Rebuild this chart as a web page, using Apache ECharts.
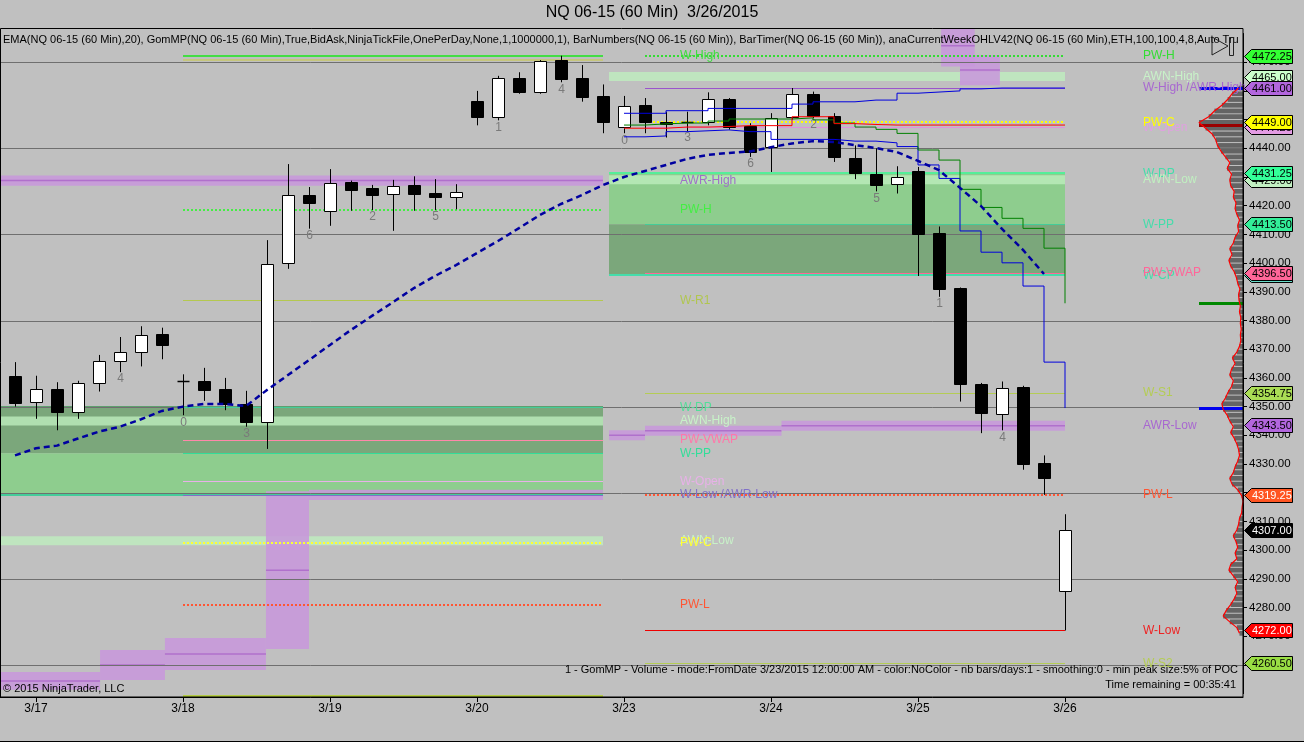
<!DOCTYPE html>
<html>
<head>
<meta charset="utf-8">
<script src="https://cdn.jsdelivr.net/npm/echarts@6.0.0/dist/echarts.min.js"></script>
<style>
html,body{margin:0;padding:0;background:#c0c0c0;overflow:hidden}
#chart{width:1304px;height:742px}
</style>
</head>
<body>
<div id="chart"></div>
<script>
// ================= DATA =================
const dateLabels = ['3/17','3/18','3/19','3/20','3/23','3/24','3/25','3/26'];
const dateBars   = [1, 8, 15, 22, 29, 36, 43, 50];

const barOpen  = [4360.75,4351.5,4356.0,4348.0,4358.25,4365.75,4369.0,4375.25,4358.75,4359.0,4356.0,4351.0,4344.75,4400.0,4423.75,4418.25,4428.25,4426.0,4424.0,4427.25,4424.5,4423.0,4456.5,4450.75,4464.5,4459.75,4470.75,4464.5,4458.25,4447.25,4455.25,4449.25,4448.75,4449.0,4457.25,4447.75,4440.5,4450.75,4459.0,4451.25,4436.5,4431.0,4427.5,4432.25,4410.5,4391.25,4358.0,4347.25,4357.0,4330.5,4285.75];
const barHigh  = [4365.5,4360.75,4358.5,4359.0,4368.0,4374.25,4378.0,4377.5,4361.25,4363.5,4360.0,4355.5,4408.0,4434.5,4426.5,4432.75,4428.75,4427.25,4429.0,4430.25,4429.25,4427.5,4460.0,4465.25,4466.5,4470.75,4472.25,4469.0,4462.25,4458.25,4457.5,4452.75,4452.75,4459.5,4457.5,4448.75,4452.25,4461.0,4459.75,4452.25,4441.0,4440.0,4433.75,4433.5,4412.75,4391.5,4358.25,4358.75,4357.25,4333.0,4312.5];
const barLow   = [4350.0,4345.75,4341.75,4345.75,4355.25,4362.0,4364.0,4366.5,4347.0,4352.0,4348.75,4343.0,4335.25,4398.0,4412.0,4413.0,4418.25,4418.5,4411.25,4418.25,4418.5,4418.75,4448.0,4449.75,4459.0,4459.0,4463.0,4456.25,4445.25,4445.25,4445.25,4443.75,4446.0,4448.0,4446.5,4437.0,4431.75,4450.0,4450.5,4435.25,4429.25,4425.0,4424.25,4395.5,4388.25,4351.75,4340.75,4341.75,4328.0,4319.25,4272.0];
const barClose = [4351.25,4356.0,4348.0,4358.25,4365.75,4369.0,4375.0,4371.5,4358.75,4355.75,4351.0,4344.75,4399.75,4423.75,4421.0,4427.75,4425.5,4423.75,4426.75,4424.25,4423.0,4424.75,4450.75,4464.5,4459.75,4470.25,4464.25,4458.0,4449.0,4454.75,4449.25,4448.5,4449.0,4457.25,4447.5,4438.75,4450.5,4458.75,4451.25,4437.0,4431.25,4427.25,4430.0,4410.0,4391.0,4357.75,4347.75,4356.5,4330.0,4325.0,4307.0];

const ema20 = [4333.0,4335.5,4336.4,4338.9,4341.3,4343.0,4345.6,4348.5,4350.0,4350.9,4350.9,4350.2,4355.8,4361.0,4366.2,4371.5,4376.7,4381.6,4386.4,4391.3,4395.5,4399.3,4403.5,4407.7,4412.2,4416.8,4420.6,4423.7,4427.2,4430.0,4432.1,4434.2,4436.3,4437.7,4438.4,4438.9,4440.4,4441.7,4442.5,4442.2,4441.1,4440.1,4438.7,4435.6,4432.4,4426.2,4419.9,4411.9,4404.6,4396.2];

// step plots of the current week, starting at bar 29
const stepStartBar = 29;
const bandUpper = [4452.2,4452.2,4453.1,4453.1,4453.9,4453.9,4453.9,4453.9,4455.4,4456.2,4456.2,4456.8,4456.8,4459.2,4459.6,4460.0,4460.7,4461.0,4461.0,4461.0,4461.0,4461.0];
const bandLower = [4444.0,4444.3,4445.8,4446.1,4446.4,4445.8,4445.8,4443.1,4443.1,4443.1,4442.5,4442.5,4441.9,4440.6,4434.2,4429.5,4411.2,4403.8,4400.1,4392.0,4365.5,4349.5];
const stepGreen = [4448.1,4448.5,4448.8,4448.8,4449.5,4450.2,4450.2,4450.2,4450.6,4449.9,4448.8,4447.4,4446.6,4445.2,4439.4,4435.9,4425.7,4419.4,4415.6,4412.1,4405.2,4386.0];
const stepRed   = [4447.0,4447.0,4447.4,4447.4,4447.6,4447.9,4447.9,4447.9,4451.0,4451.0,4448.6,4448.3,4448.1,4448.1,4448.1,4448.1,4448.1,4448.1,4448.1,4448.1,4448.1,4448.1];

const gridValues = [4260,4290,4320,4350,4380,4410,4440,4470];

const barNumberBars   = [5,8,11,14,17,20,23,26,29,32,35,38,41,44,47];
const barNumberLabels = ['4','0','3','6','2','5','1','4','0','3','6','2','5','1','4'];

// previous week levels (drawn 3/18 .. 3/20)
const prevLevelNames  = ['W-R2','W-High','AWR-High','PW-H','W-R1','W-DP','AWN-High','PW-VWAP','W-PP','W-Open','W-Low /AWR-Low','AWN-Low','PW-C','PW-L','W-S2'];
const prevLevelValues = [4470.75,4472.25,4428.75,4418.5,4387.0,4349.75,4345.0,4338.5,4333.75,4324.0,4319.25,4303.25,4302.5,4281.0,4249.0];
// current week levels
const currLevelNames  = ['PW-H','AWN-High','W-High /AWR-High','W-Open','PW-C','W-DP','AWN-Low','W-PP','W-CP','PW-VWAP','W-S1','AWR-Low','PW-L','W-Low','W-S2'];
const currLevelValues = [4472.25,4465.0,4461.0,4447.25,4449.0,4431.25,4429.0,4413.5,4395.75,4396.5,4354.75,4343.5,4319.25,4272.0,4260.5];

// pivot zones: top, middle, bottom
const prevZoneValues = [4349.75,4333.75,4319.25];
const currZoneValues = [4431.25,4413.5,4395.75];

// AWR staircases [fromBar, toBar, upper, lower]
const prevAwrLowSteps  = [[-0.714,4.05,4257.5,4251.3],[4.05,7.14,4265.2,4254.7],[7.14,11.95,4269.4,4258.2],[11.95,14.0,4320.5,4265.5],[14.0,28,4321.0,4317.5]];
const currAwrLowSteps  = [[28.29,30,4341.8,4338.3],[30,36.5,4343.3,4339.8],[36.5,50,4345.1,4341.6]];
const currAwrHighSteps = [[44.1,45.7,4483,4468.5],[45.0,46.9,4472.5,4462.0]];

// volume profile (GomMP), price ladder 4271..4461 step 2
const profileStart = 4271, profileStep = 2;
const profileVolumes = [8,14,30,45,38,28,20,14,18,12,22,32,28,14,18,12,16,22,14,10,8,3,2,0,3,12,25,30,22,18,12,8,10,14,20,28,22,30,36,45,48,40,34,26,22,30,26,18,24,14,8,5,6,4,6,5,8,6,9,10,7,12,15,20,28,32,25,30,22,18,10,12,8,14,18,16,22,20,28,30,26,36,30,40,50,58,62,70,85,100,78,65,48,35,25,10];

// price markers on the right axis
const tagValues = [4447.25,4429.00,4395.75,4472.25,4465.00,4461.00,4449.00,4431.25,4413.50,4396.50,4354.75,4343.50,4319.25,4307.00,4272.00,4260.50];

// ================= STYLE / LAYOUT =================
const tagFill = ['#e39be3','#c2f0c2','#66dcc8','#33ff33','#ccffcc','#b266dd','#ffff00','#33ff99','#33ee99','#ff6699','#aadd55','#b266dd','#ff5522','#000000','#ff0000','#99dd44'];
const tagInk  = ['#000','#000','#000','#000','#000','#000','#000','#000','#000','#000','#000','#000','#fff','#fff','#fff','#000'];

const FONT = '"Liberation Sans", Arial, sans-serif';
const X_MIN = -15/21, X_MAX = (1243-15)/21;
const PREV_X0 = 8, PREV_X1 = 28, PREV_LX = (680-15)/21;
const CURR_X0 = 30, CURR_X1 = 50, CURR_LX = (1143-15)/21;
const ZONE_PREV = [X_MIN, 28], ZONE_CURR = [(609-15)/21, 50];

const prevStyle = {
  'W-R2': {line:'#c6c67e', w:2},
  'W-High': {line:'#44dd44', w:2, label:'#3fdc3f'},
  'AWR-High': {label:'#a070c8'},
  'PW-H': {line:'#44ee44', w:2, dash:[2,2], label:'#44ee44'},
  'W-R1': {line:'#b4c850', w:1, label:'#b0c650'},
  'W-DP': {line:'#44cc99', w:1, label:'#55dd99'},
  'AWN-High': {label:'#c8f2c8'},
  'PW-VWAP': {line:'#ff88aa', w:1, label:'#ff77aa'},
  'W-PP': {line:'#33dd99', w:1, label:'#33dd99'},
  'W-Open': {line:'#e8b0e8', w:1, label:'#e8b0e8'},
  'W-Low /AWR-Low': {line:'#8070c8', w:1, label:'#8070c8'},
  'AWN-Low': {label:'#c8f2c8'},
  'PW-C': {line:'#ffff33', w:2, dash:[2,2], label:'#ffff33'},
  'PW-L': {line:'#ff5533', w:2, dash:[2,2], label:'#ff5533'},
  'W-S2': {line:'#b4cc44', w:2}
};
const currStyle = {
  'PW-H': {line:'#33dd33', w:2, dash:[2,2], label:'#33dd33'},
  'AWN-High': {label:'#c8f2c8'},
  'W-High /AWR-High': {line:'#9955cc', w:1, label:'#a868d0'},
  'W-Open': {line:'#e090e0', w:1, label:'#e0a0e0'},
  'PW-C': {line:'#ffff00', w:2, dash:[2,2], label:'#ffff00'},
  'W-DP': {line:'#55ee99', w:2, label:'#44ddaa'},
  'AWN-Low': {label:'#c0f0c0'},
  'W-PP': {line:'#44cc99', w:1, label:'#44ddaa'},
  'W-CP': {line:'#44ddaa', w:1, label:'#44ddaa'},
  'PW-VWAP': {line:'#ff6699', w:1, label:'#ff6699'},
  'W-S1': {line:'#b4cc55', w:1, label:'#b4cc55'},
  'AWR-Low': {label:'#a868d0'},
  'PW-L': {line:'#ff5533', w:2, dash:[2,2], label:'#ff5533'},
  'W-Low': {line:'#ee0000', w:1, label:'#ee2222'},
  'W-S2': {line:'#b4cc55', w:1, label:'#b4cc55'}
};

// ================= BUILD =================
function hLine(a, b, color, w, dash) {
  const y = Math.round(a[1]) + ((w % 2) ? 0.5 : 0);
  return {type:'line', shape:{x1:a[0], y1:y, x2:b[0], y2:y}, style:{stroke:color, lineWidth:w, lineDash:dash || null}};
}

function levelLines(names, values, x0, x1, styles) {
  return {type:'custom', clip:false, silent:true,
    data: values.map(v => [x0, v]),
    renderItem(params, api) {
      const k = params.dataIndex, st = styles[names[k]] || {};
      if (!st.line) return {type:'group', children:[]};
      return hLine(api.coord([x0, values[k]]), api.coord([x1, values[k]]), st.line, st.w || 1, st.dash);
    }};
}
function levelLabels(names, values, lx, styles) {
  return {type:'custom', clip:false, silent:true,
    data: values.map(v => [lx, v]),
    renderItem(params, api) {
      const k = params.dataIndex, st = styles[names[k]] || {};
      if (!st.label) return {type:'group', children:[]};
      const t = api.coord([lx, values[k]]);
      return {type:'text', style:{text:names[k], x:t[0], y:t[1], fill:st.label, font:'12px ' + FONT, align:'left', verticalAlign:'middle'}};
    }};
}

// zones [x0, x1, top, bottom] with fills
const zoneRects = [
  [ZONE_PREV[0], ZONE_PREV[1], prevZoneValues[0], prevZoneValues[1]],
  [ZONE_PREV[0], ZONE_PREV[1], prevZoneValues[1], prevZoneValues[2]],
  [ZONE_CURR[0], ZONE_CURR[1], currZoneValues[0], currZoneValues[1]],
  [ZONE_CURR[0], ZONE_CURR[1], currZoneValues[1], currZoneValues[2]]
];
const zoneFill = ['#7ba77b','#8ecd8e','#8ecd8e','#7ba77b'];
const zoneEdge = [
  [ZONE_PREV[0], ZONE_PREV[1], prevZoneValues[0], '#5f9f6f'],
  [ZONE_PREV[0], ZONE_PREV[1], prevZoneValues[2], '#44cc99'],
  [ZONE_CURR[0], ZONE_CURR[1], currZoneValues[0], '#55ee99'],
  [ZONE_CURR[0], ZONE_CURR[1], currZoneValues[2], '#44ddaa']
];

// AWN light bands
const awnBands = [
  [ZONE_PREV[0], ZONE_PREV[1], prevLevelValues[prevLevelNames.indexOf('AWN-High')]],
  [ZONE_PREV[0], ZONE_PREV[1], prevLevelValues[prevLevelNames.indexOf('AWN-Low')]],
  [ZONE_CURR[0], ZONE_CURR[1], currLevelValues[currLevelNames.indexOf('AWN-High')]],
  [ZONE_CURR[0], ZONE_CURR[1], currLevelValues[currLevelNames.indexOf('AWN-Low')]]
];

// AWR purple rects
const awrRects = [].concat(
  [[ZONE_PREV[0], ZONE_PREV[1], prevLevelValues[prevLevelNames.indexOf('AWR-High')] + 1.8, prevLevelValues[prevLevelNames.indexOf('AWR-High')] - 1.8]],
  prevAwrLowSteps, currAwrLowSteps, currAwrHighSteps
);

const candleData = barOpen.map((o, i) => [i, o, barClose[i], barLow[i], barHigh[i]]);
const profileData = profileVolumes.map((v, k) => [v, profileStart + k * profileStep]);
const stepXY = arr => arr.map((v, k) => [stepStartBar + k, v]);

const markerEnds = [
  [bandUpper[bandUpper.length - 1], '#0000ee'],
  [bandLower[bandLower.length - 1], '#0000ee'],
  [stepGreen[stepGreen.length - 1], '#008800'],
  [stepRed[stepRed.length - 1], '#990000']
];

const series = [
  // zones
  {type:'custom', clip:false, silent:true, data: zoneRects,
    renderItem(params, api) {
      const r = zoneRects[params.dataIndex];
      const a = api.coord([r[0], r[2]]), b = api.coord([r[1], r[3]]);
      return {type:'rect', shape:{x:a[0], y:a[1], width:b[0]-a[0], height:b[1]-a[1]}, style:{fill:zoneFill[params.dataIndex]}};
    }},
  // AWN bands
  {type:'custom', clip:false, silent:true, data: awnBands,
    renderItem(params, api) {
      const r = awnBands[params.dataIndex];
      const a = api.coord([r[0], r[2]]), b = api.coord([r[1], r[2]]);
      return {type:'rect', shape:{x:a[0], y:a[1]-4.5, width:b[0]-a[0], height:9}, style:{fill:'rgba(190,238,190,0.8)'}};
    }},
  // AWR purple bands
  {type:'custom', clip:false, silent:true, data: awrRects,
    renderItem(params, api) {
      const r = awrRects[params.dataIndex];
      const a = api.coord([r[0], r[2]]), b = api.coord([r[1], r[3]]);
      const y0 = Math.max(a[1], 28.5);
      return {type:'group', children:[
        {type:'rect', shape:{x:a[0], y:y0, width:b[0]-a[0], height:b[1]-y0}, style:{fill:'rgba(200,150,220,0.85)'}},
        {type:'line', shape:{x1:a[0], y1:(a[1]+b[1])/2, x2:b[0], y2:(a[1]+b[1])/2}, style:{stroke:'#b070cc', lineWidth:1.5}}
      ]};
    }},
  // zone edges
  {type:'custom', clip:false, silent:true, data: zoneEdge.map(e => [e[0], e[2]]),
    renderItem(params, api) {
      const e = zoneEdge[params.dataIndex];
      return hLine(api.coord([e[0], e[2]]), api.coord([e[1], e[2]]), e[3], 2);
    }},
  // grid lines
  {type:'custom', clip:false, silent:true, data: gridValues.map(v => [X_MIN, v]),
    renderItem(params, api) {
      const v = gridValues[params.dataIndex];
      return hLine(api.coord([X_MIN, v]), api.coord([X_MAX, v]), '#6f6f6f', 1);
    }},
  levelLines(prevLevelNames, prevLevelValues, PREV_X0, PREV_X1, prevStyle),
  levelLines(currLevelNames, currLevelValues, CURR_X0, CURR_X1, currStyle),
  // candles
  {type:'custom', clip:false, silent:true, data: candleData,
    renderItem(params, api) {
      const i = api.value(0), o = api.value(1), c = api.value(2), l = api.value(3), h = api.value(4);
      const pO = api.coord([i, o]), pC = api.coord([i, c]), pL = api.coord([i, l]), pH = api.coord([i, h]);
      const w = Math.round(api.size([1, 0])[0] * 0.58);
      const x = Math.round(pO[0]) + 0.5;
      const top = Math.round(Math.min(pO[1], pC[1])) + 0.5, bot = Math.round(Math.max(pO[1], pC[1])) + 0.5;
      const ch = [{type:'line', shape:{x1:x, y1:pH[1], x2:x, y2:pL[1]}, style:{stroke:'#000', lineWidth:1}}];
      if (bot - top < 1.5) {
        ch.push({type:'line', shape:{x1:x - w/2, y1:top, x2:x + w/2, y2:top}, style:{stroke:'#000', lineWidth:1.5}});
      } else {
        ch.push({type:'rect', shape:{x:x - w/2, y:top, width:w, height:bot - top}, style:{fill: c >= o ? '#ffffff' : '#000000', stroke:'#000', lineWidth:1}});
      }
      return {type:'group', children:ch};
    }},
  // bar numbers
  {type:'custom', clip:false, silent:true, data: barNumberBars.map(b => [b, barLow[b]]),
    renderItem(params, api) {
      const b = barNumberBars[params.dataIndex];
      const p = api.coord([b, barLow[b]]);
      return {type:'text', style:{text:barNumberLabels[params.dataIndex], x:p[0] + 0.5, y:p[1] + 1, fill:'#7a7a7a', font:'12px ' + FONT, align:'center', verticalAlign:'top'}};
    }},
  // step plots
  {type:'line', step:'end', data: stepXY(bandUpper), symbol:'none', silent:true, lineStyle:{color:'#0000dd', width:1}},
  {type:'line', step:'end', data: stepXY(bandLower), symbol:'none', silent:true, lineStyle:{color:'#0000dd', width:1}},
  {type:'line', step:'end', data: stepXY(stepGreen), symbol:'none', silent:true, lineStyle:{color:'#008000', width:1}},
  {type:'line', step:'end', data: stepXY(stepRed), symbol:'none', silent:true, lineStyle:{color:'#ff0000', width:1}},
  // EMA
  {type:'line', data: ema20.map((v, i) => [i, v]), symbol:'none', silent:true, lineStyle:{color:'#0000a0', width:2.5, type:[6,4]}},
  // profile bars
  {type:'custom', xAxisIndex:1, clip:false, silent:true, data: profileData,
    renderItem(params, api) {
      const v = api.value(0), p = api.value(1);
      const a = api.coord([v, p + profileStep/2]), b = api.coord([0, p - profileStep/2]);
      return {type:'rect', shape:{x:a[0], y:a[1] + 0.5, width:b[0] - a[0], height:b[1] - a[1] - 1}, style:{fill:'#646464'}};
    }},
  {type:'line', xAxisIndex:1, data: profileData, symbol:'none', silent:true, lineStyle:{color:'#ff0000', width:1.2}},
  // plot end markers in margin
  {type:'custom', clip:false, silent:true, data: markerEnds.map(m => [X_MAX, m[0]]),
    renderItem(params, api) {
      const m = markerEnds[params.dataIndex];
      return hLine(api.coord([(1199-15)/21, m[0]]), api.coord([X_MAX, m[0]]), m[1], 3);
    }},
  levelLabels(prevLevelNames, prevLevelValues, PREV_LX, prevStyle),
  levelLabels(currLevelNames, currLevelValues, CURR_LX, currStyle),
  // price tags
  {type:'custom', clip:false, silent:true, data: tagValues.map(v => [X_MAX, v]),
    renderItem(params, api) {
      const k = params.dataIndex, p = api.coord([X_MAX, tagValues[k]]);
      const x = Math.round(p[0]) + 1.5, y = Math.round(p[1]) + 0.5;
      return {type:'group', children:[
        {type:'polygon', shape:{points:[[x, y], [x + 7, y - 7], [x + 48, y - 7], [x + 48, y + 7], [x + 7, y + 7]]}, style:{fill:tagFill[k], stroke:'#000', lineWidth:1}},
        {type:'text', style:{text:tagValues[k].toFixed(2), x:x + 7.5, y:y + 0.5, fill:tagInk[k], font:'11px ' + FONT, align:'left', verticalAlign:'middle'}}
      ]};
    }}
];

const option = {
  backgroundColor:'#c0c0c0',
  animation:false,
  grid:{left:0, right:61, top:33.5, bottom:48.4, containLabel:false, outerBoundsMode:'none'},
  xAxis:[
    {type:'value', min:X_MIN, max:X_MAX, offset:3.4,
     axisLine:{show:true, onZero:false, lineStyle:{color:'#000'}},
     axisTick:{show:true, length:5, lineStyle:{color:'#000'}, customValues:dateBars},
     axisLabel:{customValues:dateBars, color:'#000', fontSize:12, fontFamily:'Liberation Sans', margin:6,
       formatter: v => dateLabels[dateBars.indexOf(Math.round(v))] || ''},
     splitLine:{show:false}},
    {type:'value', min:0, max:2825, inverse:true, show:false}
  ],
  yAxis:{type:'value', position:'right', min:4250, max:4480, interval:10,
    axisLine:{show:true, onZero:false, lineStyle:{color:'#000'}},
    axisTick:{show:true, length:4, lineStyle:{color:'#000'}},
    axisLabel:{color:'#000', fontSize:11.5, fontFamily:'Liberation Sans', margin:6, showMinLabel:false, showMaxLabel:false,
      formatter: v => v.toFixed(2)},
    splitLine:{show:false}},
  graphic:[
    {type:'rect', shape:{x:0.5, y:28.5, width:1242.5, height:668.5}, style:{fill:null, stroke:'#000', lineWidth:1}, z:100, silent:true},
    {type:'line', shape:{x1:0, y1:741.5, x2:1304, y2:741.5}, style:{stroke:'#000', lineWidth:1}, z:100},
    {type:'text', x:652, y:13, style:{text:'NQ 06-15 (60 Min)  3/26/2015', font:'16px ' + FONT, fill:'#000', align:'center', verticalAlign:'middle'}, z:100},
    {type:'text', x:3, y:40, style:{text:'EMA(NQ 06-15 (60 Min),20), GomMP(NQ 06-15 (60 Min),True,BidAsk,NinjaTickFile,OnePerDay,None,1,1000000,1), BarNumbers(NQ 06-15 (60 Min)), BarTimer(NQ 06-15 (60 Min)), anaCurrentWeekOHLV42(NQ 06-15 (60 Min),ETH,100,100,4,8,Auto True,True)',
      font:'11px ' + FONT, fill:'#000', align:'left', verticalAlign:'middle', width:1238, overflow:'truncate', ellipsis:''}, z:100},
    {type:'polygon', shape:{points:[[1212,37],[1228,46],[1212,55]]}, style:{fill:null, stroke:'#222', lineWidth:1}, z:101},
    {type:'rect', shape:{x:1229.5, y:37.5, width:4, height:18}, style:{fill:null, stroke:'#222', lineWidth:1}, z:101},
    {type:'text', x:1238, y:670, style:{text:'1 - GomMP - Volume - mode:FromDate 3/23/2015 12:00:00 AM - color:NoColor - nb bars/days:1 - smoothing:0 - min peak size:5% of POC',
      font:'11px ' + FONT, fill:'#000', align:'right', verticalAlign:'middle'}, z:100},
    {type:'text', x:1236, y:685, style:{text:'Time remaining = 00:35:41', font:'11px ' + FONT, fill:'#000', align:'right', verticalAlign:'middle'}, z:100},
    {type:'text', x:3, y:689, style:{text:'\u00a9 2015 NinjaTrader, LLC', font:'11px ' + FONT, fill:'#000', align:'left', verticalAlign:'middle'}, z:100}
  ],
  series: series
};

const chart = echarts.init(document.getElementById('chart'));
chart.setOption(option);
</script>
</body>
</html>
